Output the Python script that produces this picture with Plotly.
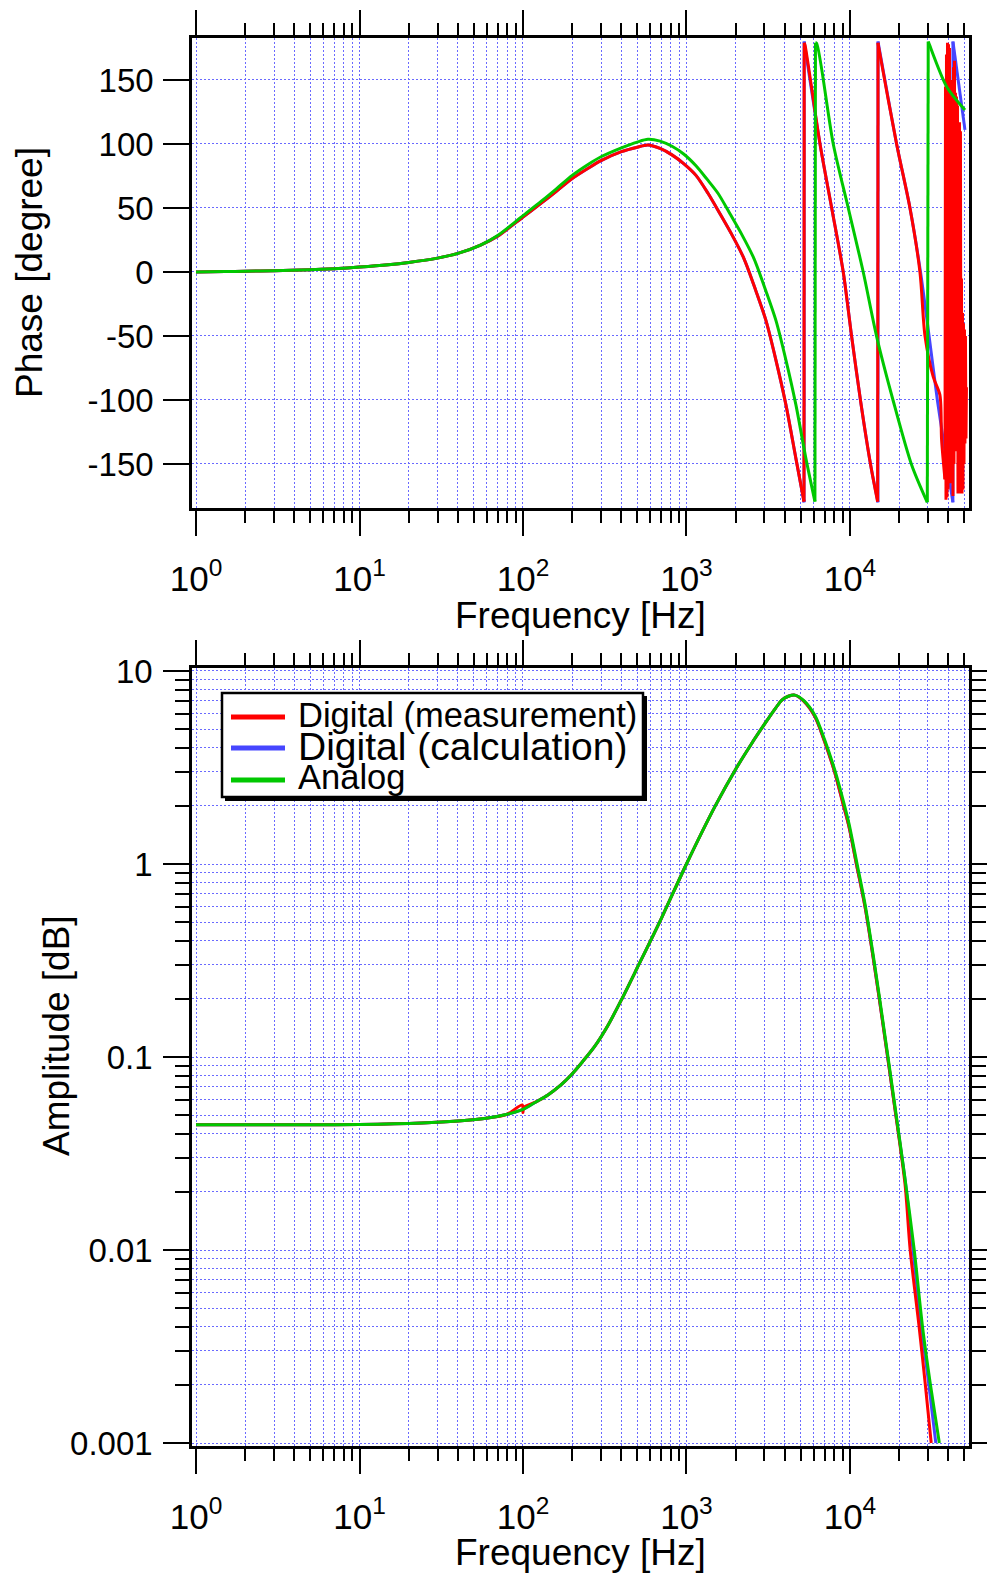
import plotly.graph_objects as go

W, H = 987, 1573

# ---------------- data ----------------
# Phase (top panel), degrees
phase_freq_meas = [1, 1.5, 2, 3, 5, 7, 10, 15, 20, 30, 40, 55, 70, 100, 130, 160, 200, 250, 300, 400, 500, 581,
                   689, 815, 965, 1143, 1354, 1603, 1898, 2247, 2662, 3064, 3527, 4061, 4674, 5233,
                   5250, 5309, 6561, 7734, 9100, 10240, 11610, 13380, 14760,
                   14850, 14900, 19300, 23290, 26800, 28770, 32300, 35480, 36330, 38110]
phase_meas = [0, 0.3, 0.6, 1.0, 1.8, 2.6, 3.8, 5.6, 7.4, 10.8, 14.5, 21, 28, 43, 54, 63, 73, 81, 87, 94, 97.5, 99.2,
              96.5, 91.5, 84.5, 75.5, 61.5, 45.5, 29, 10.5, -15, -38, -69, -104, -146, -179.4,
              179, 177.3, 99.8, 49.8, -0.2, -50.5, -100.8, -150.8, -179.4,
              179, 177.3, 99.8, 49.8, -0.2, -50, -82, -96, -131, -162]
# noisy tail of the measurement near the Nyquist frequency
phase_freq_meas_tail = [38390, 38660, 38930, 39210, 39490, 39770, 40050, 40330, 40610, 40900, 41190, 41480,
                        41770, 42070, 42360, 42660, 42960, 43260, 43570, 43880, 44190, 44500, 44810, 45130,
                        45450, 45770, 46100, 46420, 46750, 47080, 47400, 47740, 48080, 48420, 48760, 49100,
                        49450, 49800, 50150, 50500, 50850, 51220, 51570]
phase_meas_tail = [145, -178, 170, -176, 179, -170, 178, -160, 175, -165, 94, -162, 94,
                   -150, 150, -175, 160, -150, 165, -131, 140, -131, 137, -140, 130, -173,
                   117, -173, 117, -170, 110, -173, -5, -173, -32, -170, -40, -150, -45,
                   -134, -50, -130, -90]

phase_freq_calc = [1, 1.5, 2, 3, 5, 7, 10, 15, 20, 30, 40, 55, 70, 100, 130, 160, 200, 250, 300, 400, 500, 581,
                   689, 815, 965, 1143, 1354, 1603, 1898, 2247, 2662, 3064, 3527, 4061, 4674, 5240,
                   5245, 6561, 7734, 9100, 10240, 11610, 13380, 14830,
                   14840, 19300, 23290, 27000, 30500, 34300, 39300, 42600, 42650, 50500]
phase_calc = [0, 0.3, 0.6, 1.0, 1.8, 2.6, 3.8, 5.6, 7.4, 10.8, 14.5, 21, 28, 43, 54, 63, 73, 81, 87, 94, 97.5, 99.2,
              96.5, 91.5, 84.5, 75.5, 61.5, 45.5, 29, 10.5, -15, -38, -69, -104, -146, -180,
              180, 99.8, 49.8, -0.2, -50.5, -100.8, -150.8, -180,
              180, 99.8, 49.8, 0, -50.5, -100.8, -150.8, -180, 180, 111]

phase_freq_analog = [1, 1.5, 2, 3, 5, 7, 10, 15, 20, 30, 40, 55, 70, 100, 130, 160, 200, 250, 300, 400, 500, 581,
                     689, 815, 965, 1143, 1335, 1558, 1845, 2185, 2587, 3064, 3527, 4061, 4674, 5382, 6106,
                     6150, 6255, 7907, 9768, 12060, 14560, 18400, 23840, 29710,
                     30100, 30410, 39020, 50500]
phase_analog = [0, 0.3, 0.6, 1.0, 1.8, 2.6, 3.8, 5.6, 7.4, 10.8, 14.5, 21, 28.5, 44, 55.5, 65, 75.5, 84, 90, 97,
                101.5, 103.6, 102.2, 98.2, 92, 83, 72.5, 61.5, 45.5, 29, 10.5, -15, -38, -69, -104, -146, -179.4,
                179, 178.6, 99.8, 49.8, -0.2, -50.5, -100.8, -150.8, -180,
                180, 178.6, 144.8, 126.6]

# Amplitude (bottom panel)
amp_freq_meas = [1, 2, 5, 10, 24, 40, 61, 80, 99, 100, 101, 120, 142, 170, 197, 230, 273, 332, 399, 500, 700,
                 1000, 1500, 2000, 2500, 3000, 3500, 3830, 4200, 4600, 5200, 6100, 7000, 8090, 9000, 9860,
                 11000, 12360, 14000, 15700, 18500, 21700, 23350, 26500, 28840, 31400]
amp_meas = [0.0445, 0.0445, 0.0446, 0.0447, 0.0455, 0.0466, 0.0483, 0.0505, 0.0565, 0.0515, 0.0548, 0.0585,
            0.0636, 0.0715, 0.0807, 0.094, 0.1127, 0.1466, 0.197, 0.29, 0.52, 1.0, 2.0, 3.1, 4.2, 5.3, 6.4,
            7.07, 7.4, 7.5, 7.0, 5.8, 4.3, 2.96, 2.1, 1.56, 0.98, 0.60, 0.31, 0.16, 0.06, 0.022, 0.01,
            0.00398, 0.00204, 0.001]

amp_freq_calc = [1, 2, 5, 10, 24, 40, 61, 80, 100, 120, 142, 170, 197, 230, 273, 332, 399, 500, 700,
                 1000, 1500, 2000, 2500, 3000, 3500, 3830, 4200, 4600, 5200, 6100, 7000, 8090, 9000, 9860,
                 11000, 12360, 14000, 15700, 18500, 21700, 24300, 27300, 30300, 33500]
amp_calc = [0.0445, 0.0445, 0.0446, 0.0447, 0.0455, 0.0466, 0.0483, 0.0505, 0.0535, 0.0585,
            0.0636, 0.0715, 0.0807, 0.094, 0.1127, 0.1466, 0.197, 0.29, 0.52, 1.0, 2.0, 3.1, 4.2, 5.3, 6.4,
            7.07, 7.4, 7.5, 7.0, 5.8, 4.3, 2.96, 2.1, 1.56, 0.98, 0.60, 0.31, 0.16, 0.06, 0.0233, 0.01,
            0.00398, 0.00204, 0.001]

amp_freq_analog = [1, 2, 5, 10, 24, 40, 61, 80, 100, 120, 142, 170, 197, 230, 273, 332, 399, 500, 700,
                   1000, 1500, 2000, 2500, 3000, 3500, 3830, 4200, 4600, 5200, 6100, 7000, 8090, 9000, 9860,
                   11000, 12360, 14000, 15700, 18500, 21700, 24720, 27800, 30960, 35200]
amp_analog = [0.0445, 0.0445, 0.0446, 0.0447, 0.0455, 0.0466, 0.0483, 0.0505, 0.0535, 0.0585,
              0.0636, 0.0715, 0.0807, 0.094, 0.1127, 0.1466, 0.197, 0.29, 0.52, 1.0, 2.0, 3.1, 4.2, 5.3, 6.4,
              7.07, 7.4, 7.5, 7.05, 5.9, 4.4, 3.05, 2.2, 1.62, 1.02, 0.62, 0.32, 0.165, 0.062, 0.0235, 0.01,
              0.00398, 0.00204, 0.001]

series_names = ["Digital (measurement)", "Digital (calculation)", "Analog"]
series_colors = ["#ff0000", "#4646ff", "#00c800"]

x_major_vals = [1, 10, 100, 1000, 10000]
x_major_text = ["10<sup>0</sup>", "10<sup>1</sup>", "10<sup>2</sup>", "10<sup>3</sup>", "10<sup>4</sup>"]
x_minor_vals = [k * 10 ** d for d in range(0, 5) for k in range(2, 10)]
phase_tick_vals = [-150, -100, -50, 0, 50, 100, 150]
phase_tick_text = ["-150", "-100", "-50", "0", "50", "100", "150"]
amp_major_vals = [0.001, 0.01, 0.1, 1, 10]
amp_major_text = ["0.001", "0.01", "0.1", "1", "10"]
amp_minor_vals = [k * 10.0 ** d for d in range(-3, 1) for k in range(2, 10)]

# ---------------- figure ----------------
FONT = "Liberation Sans, Arial, sans-serif"
GRID = "#6a6aff"
GDASH = "2px,2px"

fig = go.Figure()


def split_wraps(fx, fy):
    segs = [([fx[0]], [fy[0]])]
    for i in range(1, len(fx)):
        if abs(fy[i] - fy[i - 1]) > 180:
            segs.append(([fx[i]], [fy[i]]))
        else:
            segs[-1][0].append(fx[i])
            segs[-1][1].append(fy[i])
    return segs


def add_phase(fx, fy, color):
    segs = split_wraps(fx, fy)
    for k, (sx, sy) in enumerate(segs):
        fig.add_trace(go.Scatter(x=sx, y=sy, mode="lines", showlegend=False, xaxis="x", yaxis="y",
                                 line=dict(color=color, width=3, shape="spline", smoothing=0.8)))
        if k + 1 < len(segs):
            nx, ny = segs[k + 1]
            fig.add_trace(go.Scatter(x=[sx[-1], nx[0]], y=[sy[-1], ny[0]], mode="lines", showlegend=False,
                                     xaxis="x", yaxis="y", line=dict(color=color, width=3)))


phase_x = [phase_freq_meas, phase_freq_calc, phase_freq_analog]
phase_y = [phase_meas, phase_calc, phase_analog]
amp_x = [amp_freq_meas, amp_freq_calc, amp_freq_analog]
amp_y = [amp_meas, amp_calc, amp_analog]

order = [1, 0, 2]  # calculation, then measurement, then analog on top
for i in order:
    add_phase(phase_x[i], phase_y[i], series_colors[i])
    if i == 0:
        fig.add_trace(go.Scatter(x=[phase_freq_meas[-1]] + phase_freq_meas_tail,
                                 y=[phase_meas[-1]] + phase_meas_tail, mode="lines", showlegend=False,
                                 xaxis="x", yaxis="y", line=dict(color=series_colors[0], width=3)))

for i in order:
    fig.add_trace(go.Scatter(x=amp_x[i], y=amp_y[i], mode="lines", name=series_names[i],
                             line=dict(color=series_colors[i], width=3, shape="spline", smoothing=0.8),
                             xaxis="x2", yaxis="y2", showlegend=False))

xdom = [192 / W, 969 / W]
common = dict(showline=True, linecolor="black", linewidth=2.5, ticks="outside", tickwidth=2,
              tickcolor="black", showgrid=True, gridcolor=GRID, gridwidth=1, griddash=GDASH,
              zeroline=False, automargin=False)
xminor = dict(tickmode="array", tickvals=x_minor_vals, ticks="outside", ticklen=12, tickwidth=2,
              tickcolor="black", showgrid=True, gridcolor=GRID, gridwidth=1, griddash=GDASH)

xcommon = dict(type="log", range=[-0.0245, 4.728], domain=xdom, mirror="ticks", ticklen=25,
               tickmode="array", tickvals=x_major_vals, ticktext=x_major_text, minor=xminor,
               ticklabelstandoff=13, tickfont=dict(family=FONT, size=35, color="black"))
xcommon.update(common)

yfont = dict(family=FONT, size=33, color="black")

fig.update_layout(
    width=W, height=H, margin=dict(l=0, r=0, t=0, b=0, pad=0, autoexpand=False),
    paper_bgcolor="white", plot_bgcolor="white", showlegend=False,
    xaxis=dict(anchor="y", **xcommon),
    yaxis=dict(anchor="x", domain=[1 - 508 / H, 1 - 38 / H], range=[-184.4, 182.8], mirror=True,
               ticklen=26, tickmode="array", tickvals=phase_tick_vals, ticktext=phase_tick_text,
               ticklabelstandoff=3, tickfont=yfont, **common),
    xaxis2=dict(anchor="y2", **xcommon),
    yaxis2=dict(anchor="x2", type="log", domain=[1 - 1446 / H, 1 - 668 / H], range=[-3.0155, 1.0155],
                mirror="ticks", ticklen=26, tickmode="array", tickvals=amp_major_vals,
                ticktext=amp_major_text, ticklabelstandoff=4, tickfont=yfont,
                minor=dict(tickmode="array", tickvals=amp_minor_vals, ticks="outside", ticklen=14,
                           tickwidth=2, tickcolor="black", showgrid=True, gridcolor=GRID, gridwidth=1,
                           griddash=GDASH),
                **common),
)


def px(x):
    return x / W


def py(y):
    return 1 - y / H


annotations = [
    dict(text="Phase [degree]", x=px(30), y=py(273), textangle=-90),
    dict(text="Frequency [Hz]", x=px(580), y=py(615)),
    dict(text="Amplitude [dB]", x=px(56), y=py(1036), textangle=-90),
    dict(text="Frequency [Hz]", x=px(580), y=py(1552)),
]
for a in annotations:
    a.update(xref="paper", yref="paper", showarrow=False, xanchor="center", yanchor="middle",
             font=dict(family=FONT, size=37, color="black"))

# legend (drawn box)
shapes = [
    dict(type="rect", xref="paper", yref="paper", x0=px(225), x1=px(647), y0=py(801), y1=py(696),
         fillcolor="black", line=dict(width=0), layer="above"),
    dict(type="rect", xref="paper", yref="paper", x0=px(222), x1=px(643), y0=py(797), y1=py(693),
         fillcolor="white", line=dict(color="black", width=2.5), layer="above"),
]
leg_y = [717, 748, 780]
leg_text_y = [715, 746, 777]
leg_sizes = [34.5, 39, 34.5]
for i in range(3):
    shapes.append(dict(type="line", xref="paper", yref="paper", x0=px(231), x1=px(285),
                       y0=py(leg_y[i]), y1=py(leg_y[i]), line=dict(color=series_colors[i], width=5),
                       layer="above"))
    annotations.append(dict(text=series_names[i], x=px(296), y=py(leg_text_y[i]), xref="paper",
                            yref="paper", showarrow=False, xanchor="left", yanchor="middle",
                            font=dict(family=FONT, size=leg_sizes[i], color="black")))

fig.update_layout(annotations=annotations, shapes=shapes)

fig.write_html("out.html")
